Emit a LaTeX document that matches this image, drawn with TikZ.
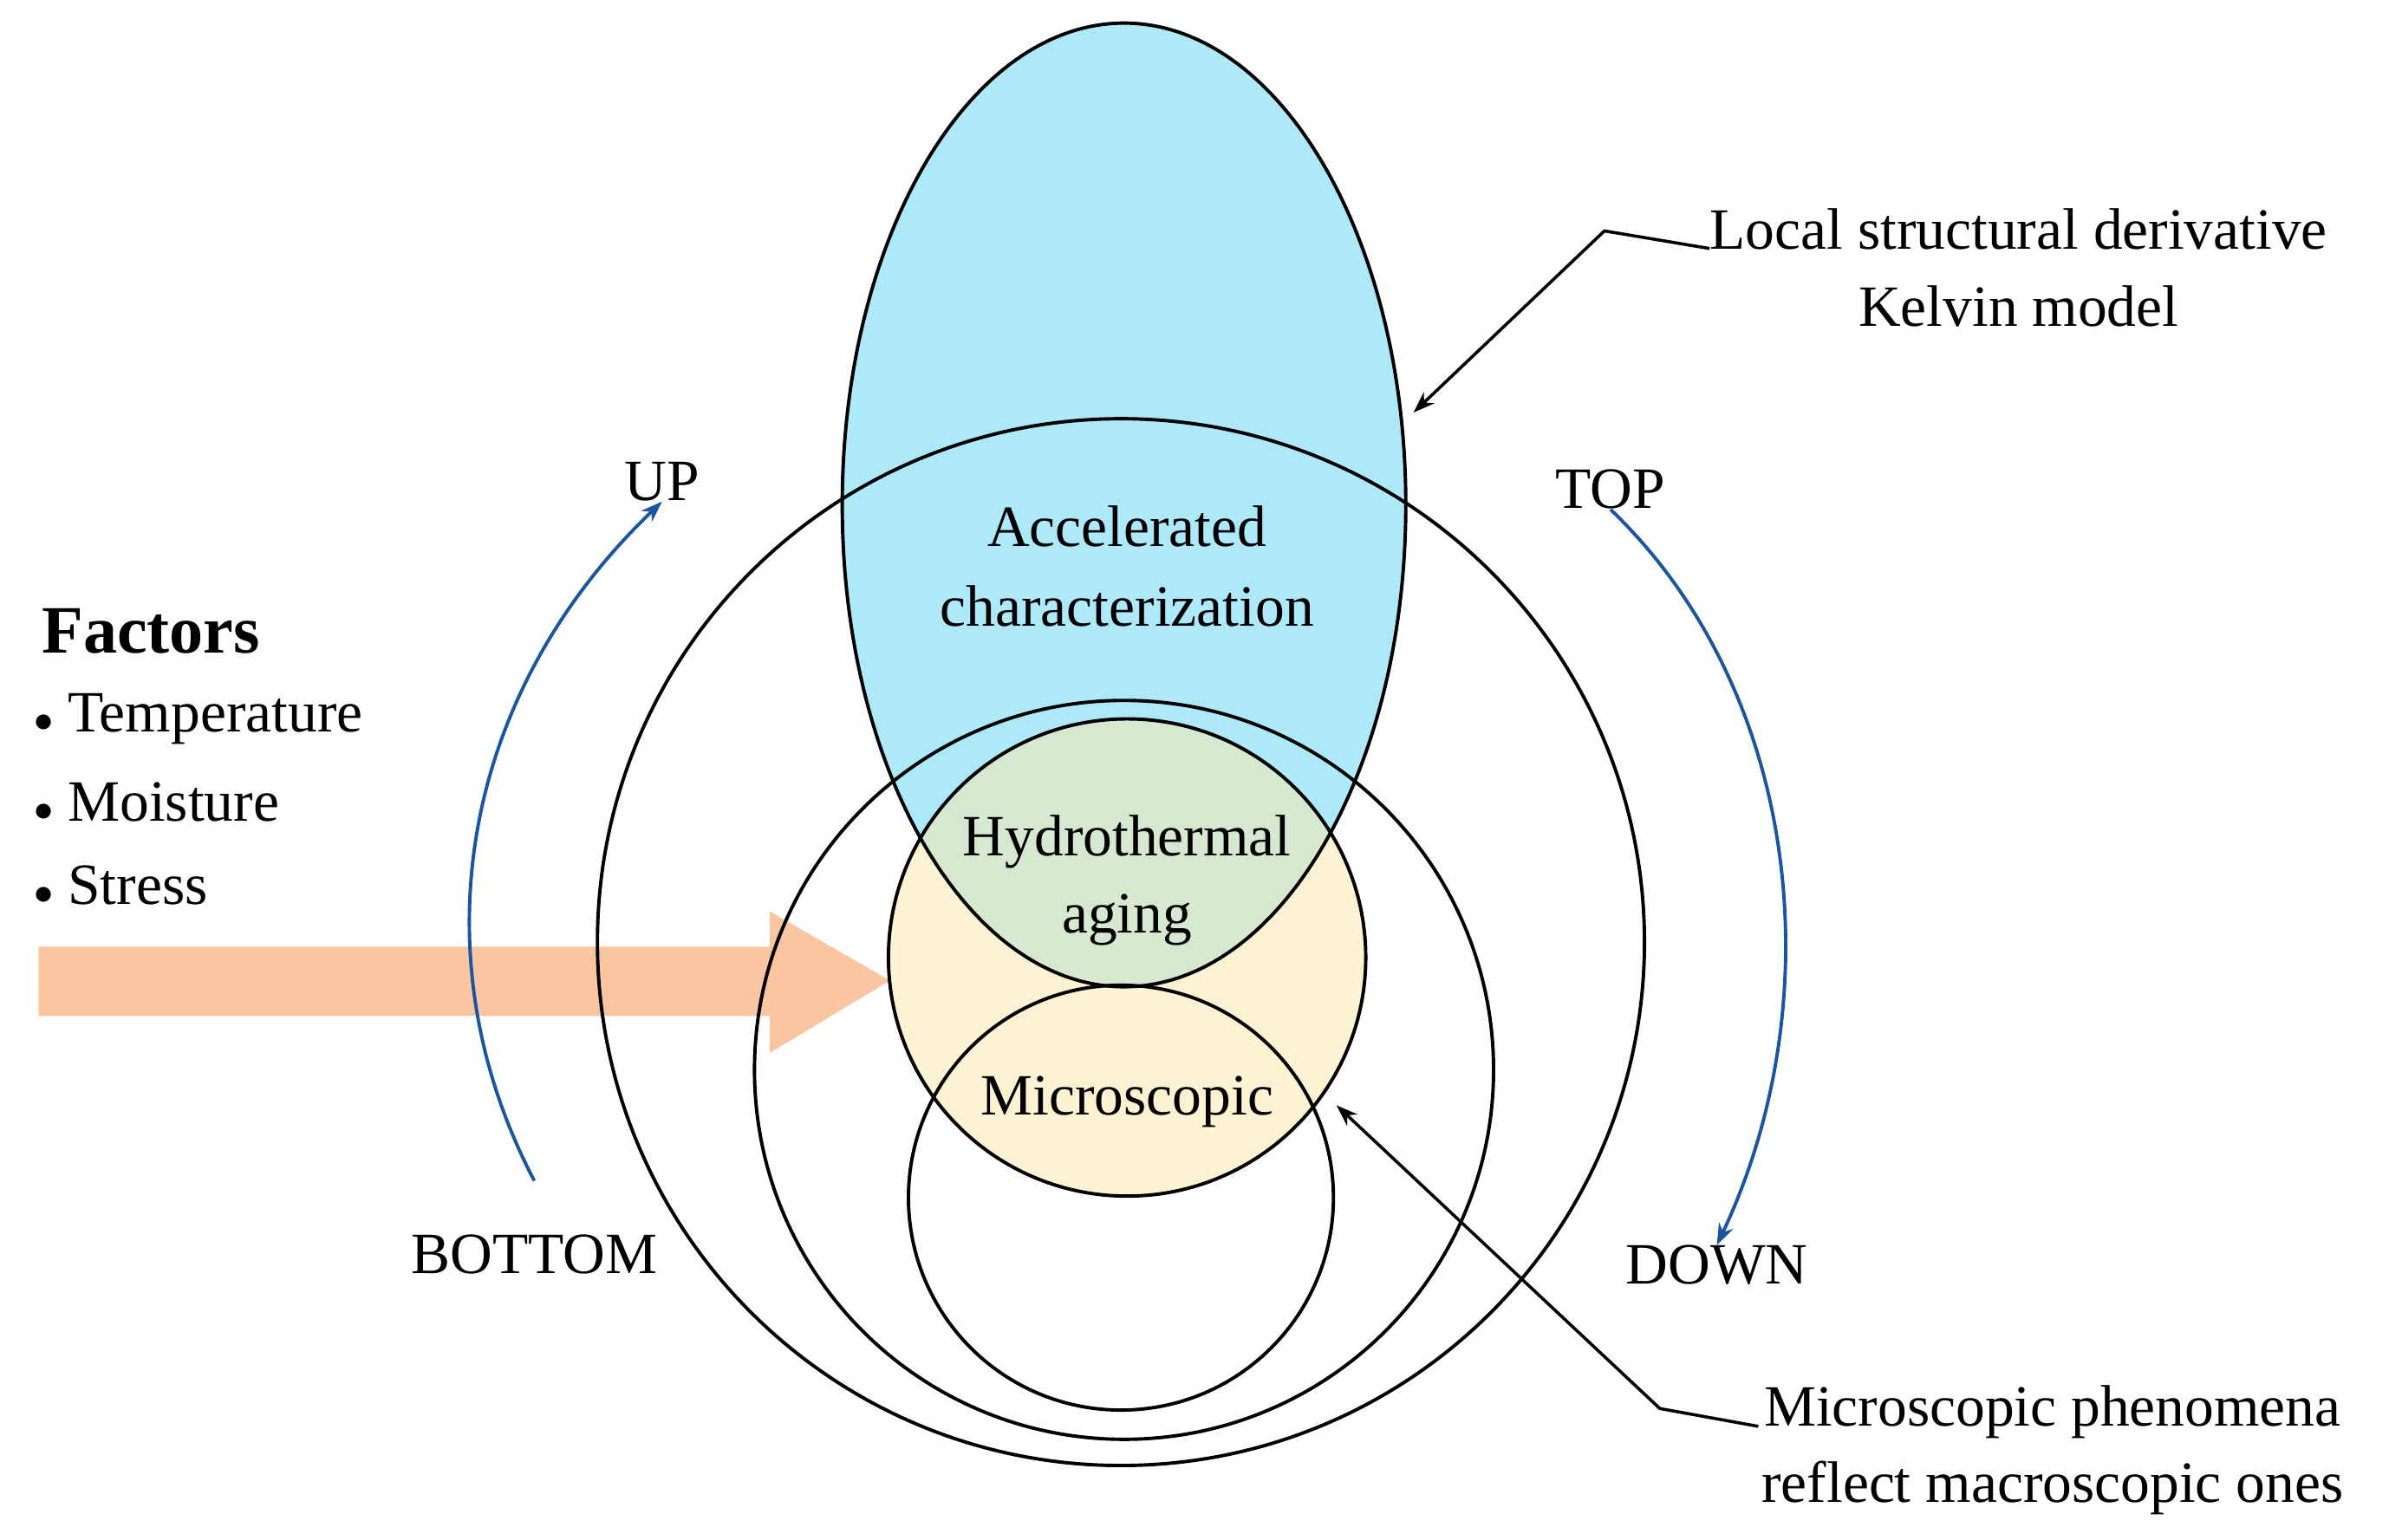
\documentclass[tikz,border=0pt]{standalone}
\usepackage{fontspec}
\setmainfont{Liberation Serif}
\usetikzlibrary{arrows.meta}
\definecolor{cblue}{HTML}{ADE9F9}
\definecolor{cyel}{HTML}{FDF2D2}
\definecolor{cgreen}{HTML}{D6E8CF}
\definecolor{corange}{HTML}{F9B88A}
\definecolor{darr}{HTML}{1B55A0}
\tikzset{
  txt/.style={font=\fontsize{38}{46}\selectfont, align=center, inner sep=0pt},
  outl/.style={draw=black, line width=2.2pt},
  barr/.style={draw=darr, line width=2.2pt, -{Stealth[length=14pt,width=10pt]}},
  karr/.style={draw=black, line width=2pt, -{Stealth[length=14pt,width=10pt]}},
}
\begin{document}
\begin{tikzpicture}[x=1pt,y=-1pt]
\useasboundingbox (0,0) rectangle (1560,1000);
% fills
\fill[cblue] (730,328) ellipse [x radius=183, y radius=313];
\fill[cyel] (732,622) circle (155);
\begin{scope}
\clip (730,328) ellipse [x radius=183, y radius=313];
\fill[cgreen] (732,622) circle (155);
\end{scope}
% orange arrow
\fill[corange, opacity=0.8] (25,615) -- (500,615) -- (500,592) -- (578,637) -- (500,684) -- (500,660) -- (25,660) -- cycle;
% outlines
\node[outl, circle, minimum size=680pt, inner sep=0pt] (big) at (728,612) {};
\node[outl, circle, minimum size=480pt, inner sep=0pt] (mid) at (730,695) {};
\node[outl, circle, minimum size=276pt, inner sep=0pt] (small) at (728,778) {};
\node[outl, circle, minimum size=310pt, inner sep=0pt] (yel) at (732,622) {};
\draw[outl] (730,328) ellipse [x radius=183, y radius=313];
\coordinate (ell) at (918,268);
\coordinate (micpt) at (868,718);
% texts
\node[txt] (acc) at (732,368) {Accelerated\\[6pt]characterization};
\node[txt] (hyd) at (732,572) {Hydrothermal\\[4pt]aging};
\node[txt] (mic) at (732,716) {Microscopic};
\node[txt] (up) at (430,313) {UP};
\node[txt] (top) at (1046,318) {TOP};
\node[txt] (bot) at (347,815) {BOTTOM};
\node[txt] (down) at (1115,822) {DOWN};
\node[txt] (kel) at (1311,174) {Local structural derivative\\[4pt]Kelvin model};
\node[txt] (mph) at (1333,942) {Microscopic phenomena\\[4pt]reflect macroscopic ones};
\node[txt, anchor=west, font=\fontsize{44}{52}\selectfont\bfseries] (fac) at (27,410) {Factors};
\node[txt, anchor=west] (t1) at (22,467) {$\bullet$ Temperature};
\node[txt, anchor=west] (t2) at (22,521) {$\bullet$ Moisture};
\node[txt, anchor=west] (t3) at (22,575) {$\bullet$ Stress};
% blue arrows
\draw[barr] (bot.north) ++(0,-35) .. controls (270,620) and (300,450) .. (up.south);
\draw[barr] (top.south) ++(0,0) .. controls (1170,450) and (1190,650) .. (down.north);
% callouts
\draw[karr] (kel.north west) ++(0,26) -- (1042,150) -- (ell);
\draw[karr] (mph.north west) ++(-2,27) -- (1078,915) -- (micpt);
\end{tikzpicture}
\end{document}
